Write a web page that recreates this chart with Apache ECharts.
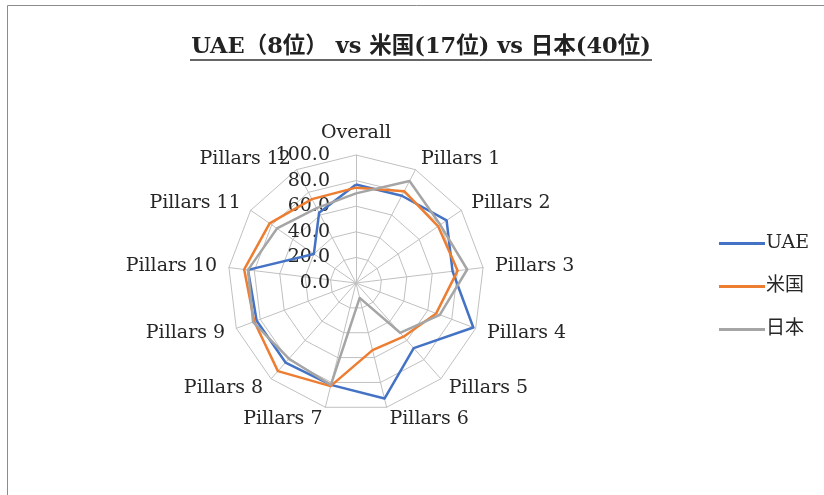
<!DOCTYPE html>
<html>
<head>
<meta charset="utf-8">
<script src="https://cdn.jsdelivr.net/npm/echarts@6/dist/echarts.min.js"></script>
<style>
  html, body { margin: 0; padding: 0; background: #fff; }
  #chart { width: 824px; height: 495px; }
</style>
</head>
<body>
<div id="chart"></div>
<script>
// indicators, in clockwise order starting from the top
var categories = ['Overall', 'Pillars 1', 'Pillars 2', 'Pillars 3', 'Pillars 4', 'Pillars 5', 'Pillars 6',
                  'Pillars 7', 'Pillars 8', 'Pillars 9', 'Pillars 10', 'Pillars 11', 'Pillars 12'];
var uae   = [77, 77, 86, 76, 98, 68, 93, 82, 83, 83, 85, 40, 62];
var usa   = [74.5, 81, 78, 80, 67, 56, 54, 83, 92, 85, 88, 82, 74];
var japan = [70, 90, 80, 87.5, 70, 52, 12, 82, 79, 86, 85, 75, 66];
var seriesNames = ['UAE', '米国', '日本'];
var tickValues = [0, 20, 40, 60, 80, 100];

var font = 'DejaVu Serif, Noto Sans CJK JP';
var colors = ['#4472C4', '#ED7D31', '#A5A5A5'];

// echarts lays indicators out counter-clockwise, so keep the first one and reverse the rest
var order = [0];
for (var i = categories.length - 1; i > 0; i--) order.push(i);
function reorder(arr) { return order.map(function (k) { return arr[k]; }); }

var indicator = reorder(categories).map(function (name, idx) {
    var ind = { name: name, min: tickValues[0], max: tickValues[tickValues.length - 1] };
    if (idx === 0) ind.axisLabel = { show: true };
    return ind;
});

var myChart = echarts.init(document.getElementById('chart'));

option = {
    color: colors,
    animation: false,
    title: {
        text: 'UAE（8位） vs 米国(17位) vs 日本(40位)',
        left: 416,
        top: 31,
        textAlign: 'center',
        textStyle: { fontFamily: font, fontSize: 22.5, fontWeight: 'bold', color: '#222' }
    },
    legend: {
        orient: 'vertical',
        left: 714,
        top: 229,
        itemGap: 24,
        itemWidth: 46,
        itemHeight: 3,
        icon: 'rect',
        data: seriesNames,
        textStyle: { fontFamily: font, fontSize: 19, color: '#262626', padding: [0, 0, 0, -4] }
    },
    graphic: [
        {
            type: 'rect',
            shape: { x: 7.5, y: 5.5, width: 900, height: 600 },
            style: { fill: null, stroke: '#8c8c8c', lineWidth: 1 },
            silent: true
        },
        {
            type: 'line',
            shape: { x1: 190, y1: 60, x2: 652, y2: 60 },
            style: { stroke: '#333', lineWidth: 1.5 },
            silent: true
        }
    ],
    radar: {
        center: [356, 283],
        radius: 128,
        startAngle: 90,
        splitNumber: tickValues.length - 1,
        shape: 'polygon',
        nameGap: 12,
        axisName: { fontFamily: font, fontSize: 19, color: '#262626' },
        axisLine: { lineStyle: { color: '#c0c0c0', width: 1 } },
        splitLine: { lineStyle: { color: '#c0c0c0', width: 1 } },
        splitArea: { show: false },
        axisTick: { show: false },
        axisLabel: {
            show: false,
            margin: 26,
            fontFamily: font,
            fontSize: 19,
            color: '#262626',
            formatter: function (v) { return v.toFixed(1); }
        },
        indicator: indicator
    },
    series: [
        {
            type: 'radar',
            symbol: 'none',
            lineStyle: { width: 2.5 },
            data: [
                { name: seriesNames[0], value: reorder(uae) },
                { name: seriesNames[1], value: reorder(usa) },
                { name: seriesNames[2], value: reorder(japan) }
            ]
        }
    ]
};

myChart.setOption(option);
</script>
</body>
</html>
